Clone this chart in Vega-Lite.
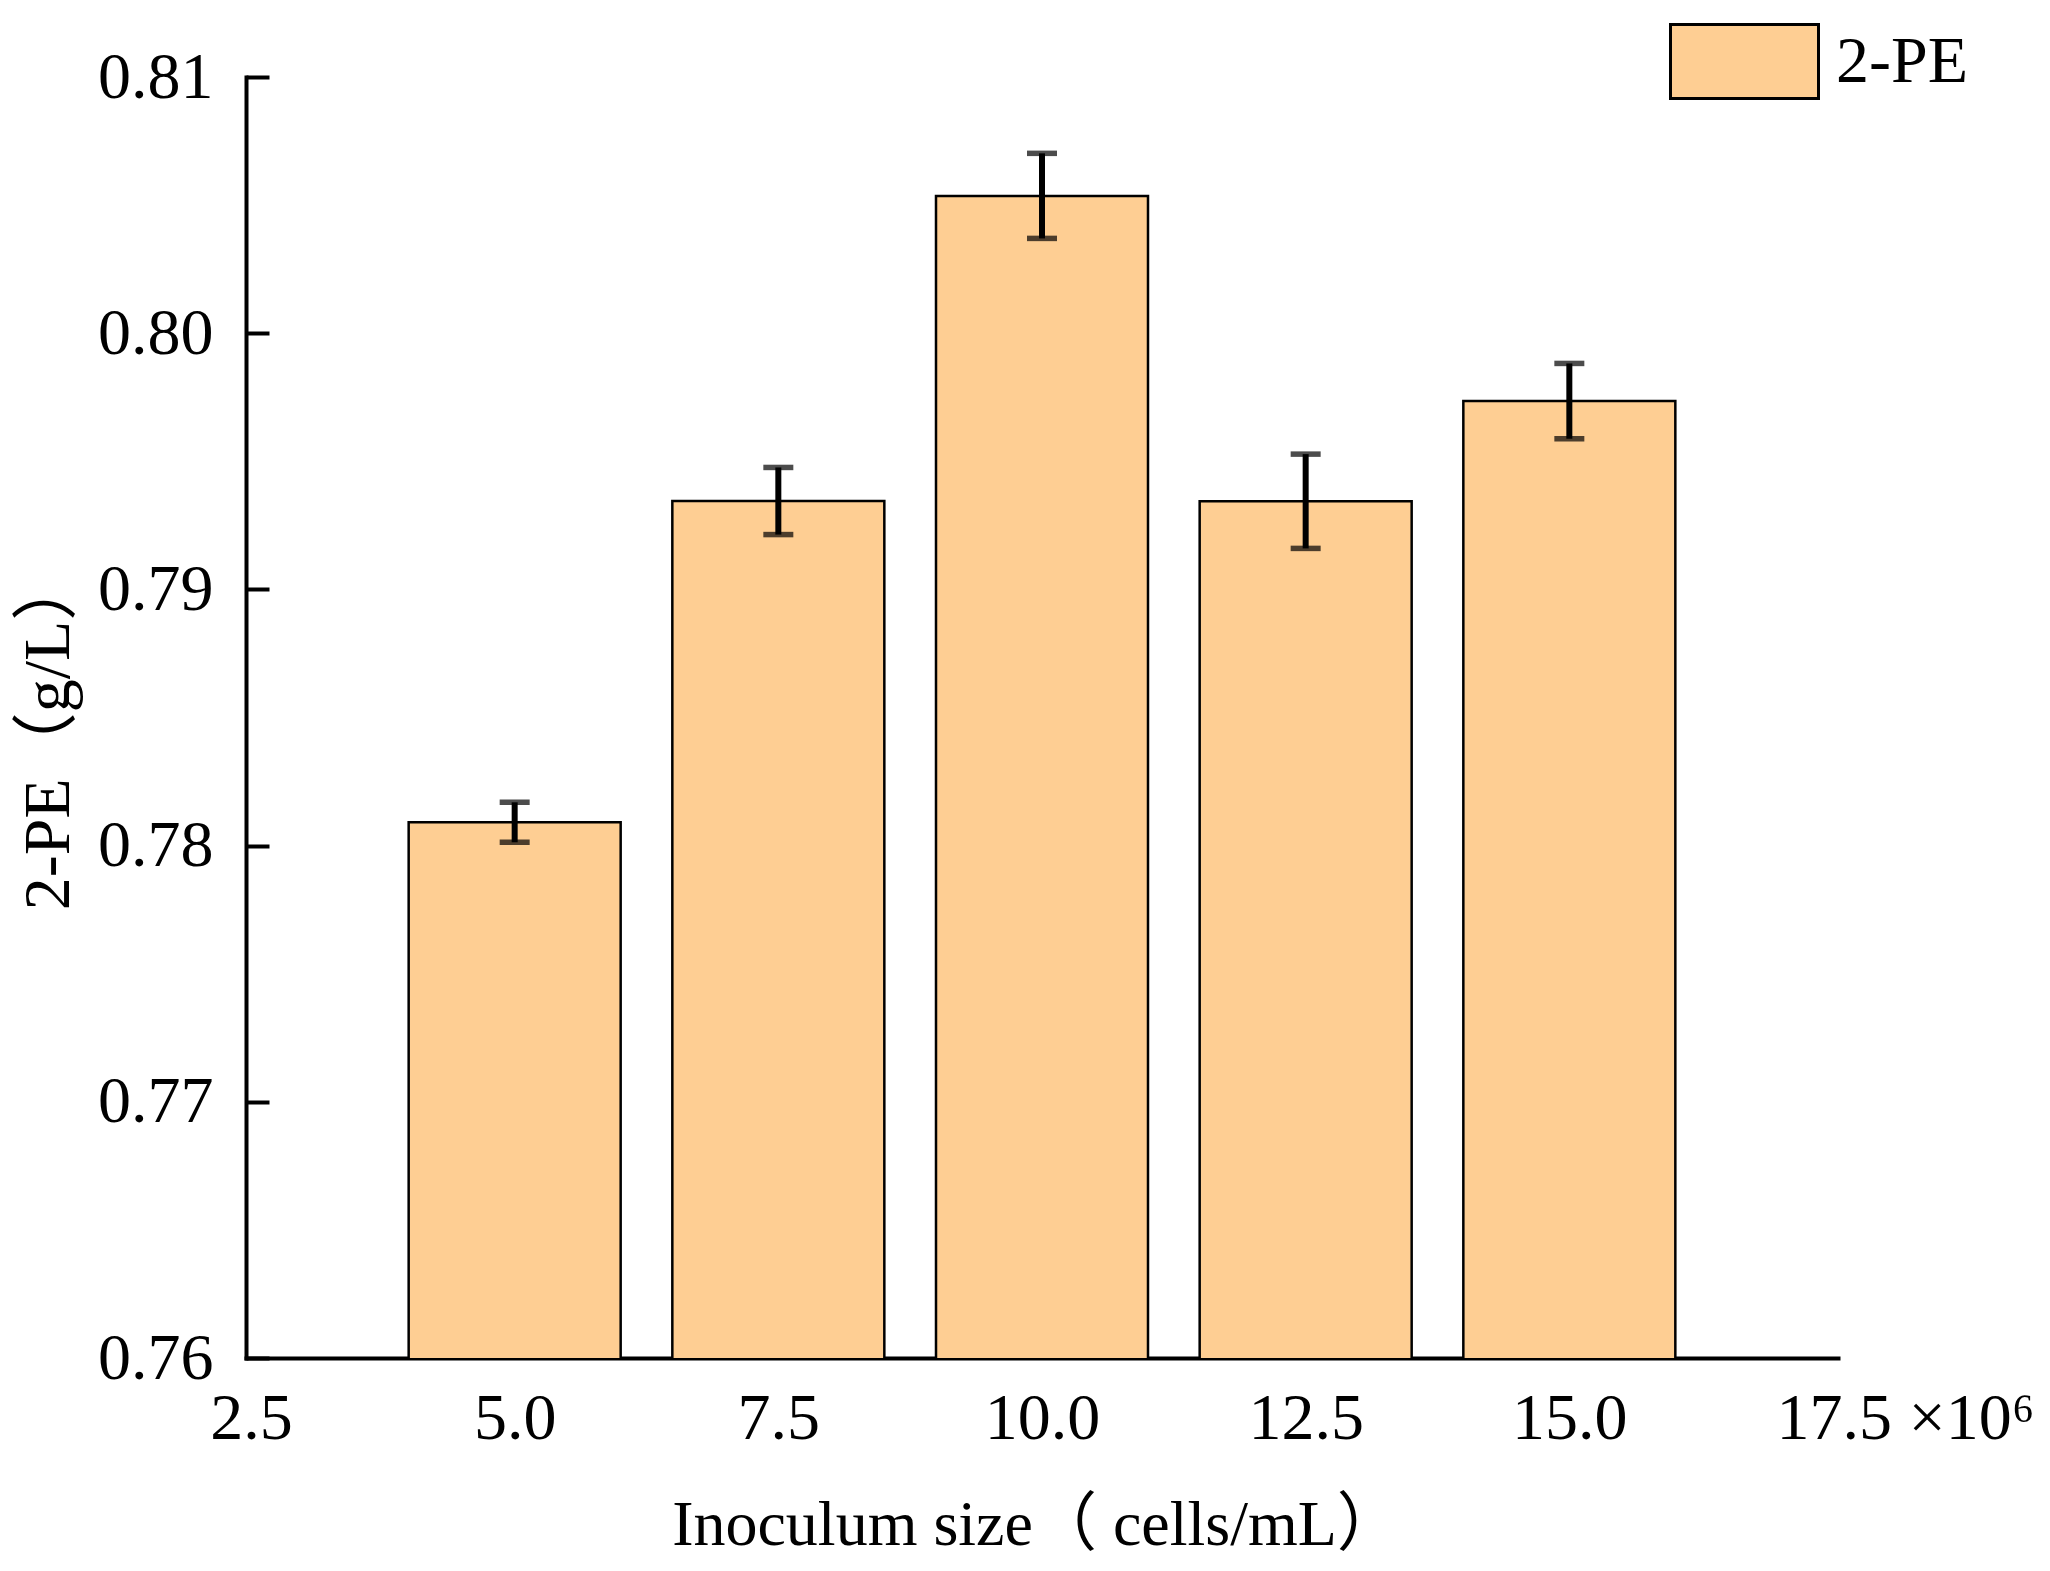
{
  "$schema": "https://vega.github.io/schema/vega-lite/v6.json",
  "background": "white",
  "autosize": {"type": "none"},
  "padding": {"left": 246, "top": 77, "right": 212, "bottom": 213},
  "width": 1592,
  "height": 1281,
  "data": {
    "values": [
      {"size": 5.0, "pe": 0.78091, "err": 0.00078, "series": "2-PE"},
      {"size": 7.5, "pe": 0.79345, "err": 0.00131, "series": "2-PE"},
      {"size": 10.0, "pe": 0.80536, "err": 0.00166, "series": "2-PE"},
      {"size": 12.5, "pe": 0.79344, "err": 0.00184, "series": "2-PE"},
      {"size": 15.0, "pe": 0.79735, "err": 0.00147, "series": "2-PE"}
    ]
  },
  "encoding": {
    "x": {
      "field": "size",
      "type": "quantitative",
      "scale": {"domain": [2.5, 17.5], "nice": false, "zero": false},
      "axis": {
        "title": "Inoculum size（ cells/mL）",
        "values": [2.5, 5, 7.5, 10, 12.5, 15, 17.5],
        "format": ".1f",
        "labelExpr": "datum.value === 17.5 ? '17.5 ×10⁶' : format(datum.value, '.1f')",
        "labelAlign": {"condition": {"test": "datum.value === 17.5", "value": "left"}, "value": "center"},
        "labelOffset": {"condition": {"test": "datum.value === 17.5", "value": -57}, "value": 0},
        "labelLimit": 0,
        "ticks": false,
        "tickSize": 0,
        "labelPadding": 28,
        "labelFlush": false,
        "labelOverlap": false,
        "titleX": 790,
        "titleY": 135
      }
    },
    "y": {
      "field": "pe",
      "type": "quantitative",
      "scale": {"domain": [0.76, 0.81], "nice": false, "zero": false},
      "axis": {
        "title": "2-PE（g/L）",
        "values": [0.76, 0.77, 0.78, 0.79, 0.80, 0.81],
        "format": ".2f",
        "tickSize": -23,
        "tickWidth": 4,
        "tickColor": "black",
        "labelPadding": 56,
        "titleX": -164,
        "titleY": 655,
        "titleFontSize": 66
      }
    }
  },
  "layer": [
    {
      "mark": {"type": "bar", "width": 212, "stroke": "black", "strokeWidth": 2.5, "clip": true},
      "encoding": {
        "fill": {
          "field": "series",
          "type": "nominal",
          "scale": {"range": ["#FECE93"]},
          "legend": {
            "orient": "none",
            "legendX": 1423,
            "legendY": -91,
            "title": null,
            "padding": 0,
            "symbolType": "M-1,-0.5H1V0.5H-1Z",
            "symbolSize": 21904,
            "symbolStrokeColor": "black",
            "symbolStrokeWidth": 3,
            "labelFont": "Liberation Serif",
            "labelFontSize": 66,
            "labelColor": "black",
            "labelOffset": 16,
            "labelLimit": 400
          }
        }
      }
    },
    {
      "mark": {
        "type": "errorbar",
        "color": "black",
        "rule": {"strokeWidth": 6, "color": "black"},
        "ticks": {"size": 30, "thickness": 5.5, "color": "black"}
      },
      "encoding": {
        "yError": {"field": "err"}
      }
    }
  ],
  "config": {
    "view": {"stroke": null},
    "axis": {
      "grid": false,
      "domainColor": "black",
      "domainWidth": 4,
      "domainCap": "square",
      "labelFont": "Liberation Serif",
      "labelFontSize": 66,
      "labelColor": "black",
      "titleFont": "Liberation Serif, Noto Sans CJK SC",
      "titleFontSize": 64,
      "titleFontWeight": "normal",
      "titleColor": "black"
    }
  }
}
